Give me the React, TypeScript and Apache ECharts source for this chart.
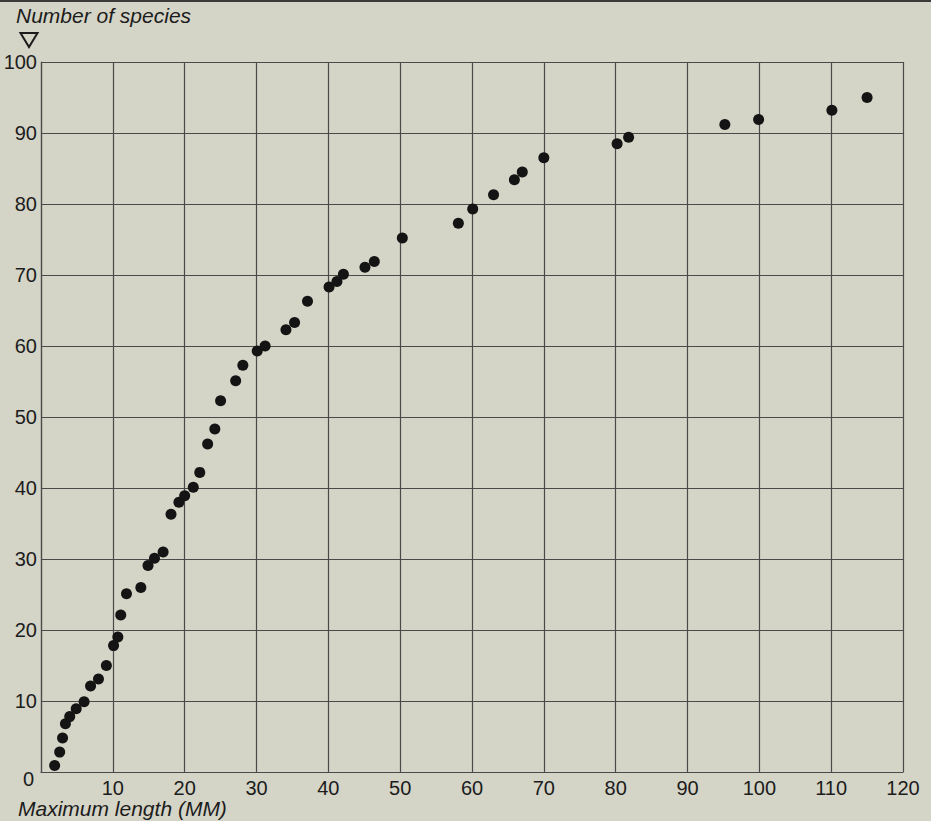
import React, { useEffect, useRef } from "react";
import * as echarts from "echarts";

const maxLength = [
  1.9, 2.6, 3.0, 3.4, 4.0, 4.9, 6.0, 6.9, 8.0, 9.1, 10.1, 10.7, 11.1, 11.9, 13.9,
  14.9, 15.8, 17.0, 18.1, 19.2, 20.0, 21.2, 22.1, 23.2, 24.2, 25.0, 27.1, 28.1,
  30.1, 31.2, 34.1, 35.3, 37.1, 40.1, 41.2, 42.1, 45.1, 46.4, 50.3, 58.1, 60.1,
  63.0, 65.9, 67.0, 70.0, 80.2, 81.8, 95.2, 99.9, 110.1, 115.0,
];
const species = [
  0.9, 2.8, 4.8, 6.8, 7.8, 8.9, 9.9, 12.1, 13.1, 15.0, 17.8, 19.0, 22.1, 25.1, 26.0,
  29.1, 30.1, 31.0, 36.3, 38.0, 38.9, 40.1, 42.2, 46.2, 48.3, 52.3, 55.1, 57.3,
  59.3, 60.0, 62.3, 63.3, 66.3, 68.3, 69.1, 70.1, 71.1, 71.9, 75.2, 77.3, 79.3,
  81.3, 83.4, 84.5, 86.5, 88.5, 89.4, 91.2, 91.9, 93.2, 95.0,
];
const xTicks = [0, 10, 20, 30, 40, 50, 60, 70, 80, 90, 100, 110, 120];
const yTicks = [0, 10, 20, 30, 40, 50, 60, 70, 80, 90, 100];

const yTitle = "Number of species";
const xTitle = "Maximum length (MM)";

const FONT = "'Liberation Sans', Arial, sans-serif";
const TEXT = "#1c1c1c";
const GRID = "#4a4a4a";
const BG = "#d4d4c7";

export default function App() {
  const ref = useRef<HTMLDivElement>(null);
  useEffect(() => {
    const chart = echarts.init(ref.current!, null, { renderer: "svg" });
    const points = maxLength.map((x, i) => [x, species[i]]);
    chart.setOption({
      animation: false,
      backgroundColor: BG,
      textStyle: { fontFamily: FONT },
      grid: { left: 41, right: 28, top: 62, bottom: 49, containLabel: false },
      xAxis: {
        type: "value",
        min: xTicks[0],
        max: xTicks[xTicks.length - 1],
        interval: 10,
        axisLine: { show: true, lineStyle: { color: GRID, width: 1.2 } },
        axisTick: { show: false },
        axisLabel: {
          color: TEXT,
          fontSize: 20,
          fontFamily: FONT,
          margin: 6,
          formatter: (v: number) => (v === 0 ? "" : String(v)),
        },
        splitLine: { show: true, lineStyle: { color: GRID, width: 1.2 } },
      },
      yAxis: {
        type: "value",
        min: yTicks[0],
        max: yTicks[yTicks.length - 1],
        interval: 10,
        axisLine: { show: true, lineStyle: { color: GRID, width: 1.2 } },
        axisTick: { show: false },
        axisLabel: {
          color: TEXT,
          fontSize: 20,
          fontFamily: FONT,
          margin: 4,
          formatter: (v: number) => (v === 0 ? "" : String(v)),
        },
        splitLine: { show: true, lineStyle: { color: GRID, width: 1.2 } },
      },
      graphic: [
        {
          type: "rect",
          shape: { x: 0, y: 0, width: 931, height: 2 },
          style: { fill: "#3a3a3a" },
        },
        {
          type: "text",
          x: 16,
          y: 15.5,
          style: {
            text: yTitle,
            font: `italic 21px ${FONT}`,
            fill: TEXT,
            textVerticalAlign: "middle",
          },
        },
        {
          type: "polygon",
          shape: { points: [[20.5, 33], [37.5, 33], [29, 47]] },
          style: { fill: "none", stroke: TEXT, lineWidth: 2 },
        },
        {
          type: "text",
          x: 28.5,
          y: 779,
          style: {
            text: "0",
            font: `20px ${FONT}`,
            fill: TEXT,
            textAlign: "center",
            textVerticalAlign: "middle",
          },
        },
        {
          type: "text",
          x: 18,
          y: 808.5,
          style: {
            text: xTitle,
            font: `italic 21px ${FONT}`,
            fill: TEXT,
            textVerticalAlign: "middle",
          },
        },
      ],
      series: [
        {
          type: "scatter",
          data: points,
          symbol: "circle",
          symbolSize: 11,
          itemStyle: { color: "#141414", opacity: 1 },
        },
      ],
    });
    return () => chart.dispose();
  }, []);
  return (
    <div
      ref={ref}
      style={{ position: "absolute", left: 0, top: 0, width: 931, height: 821 }}
    />
  );
}
